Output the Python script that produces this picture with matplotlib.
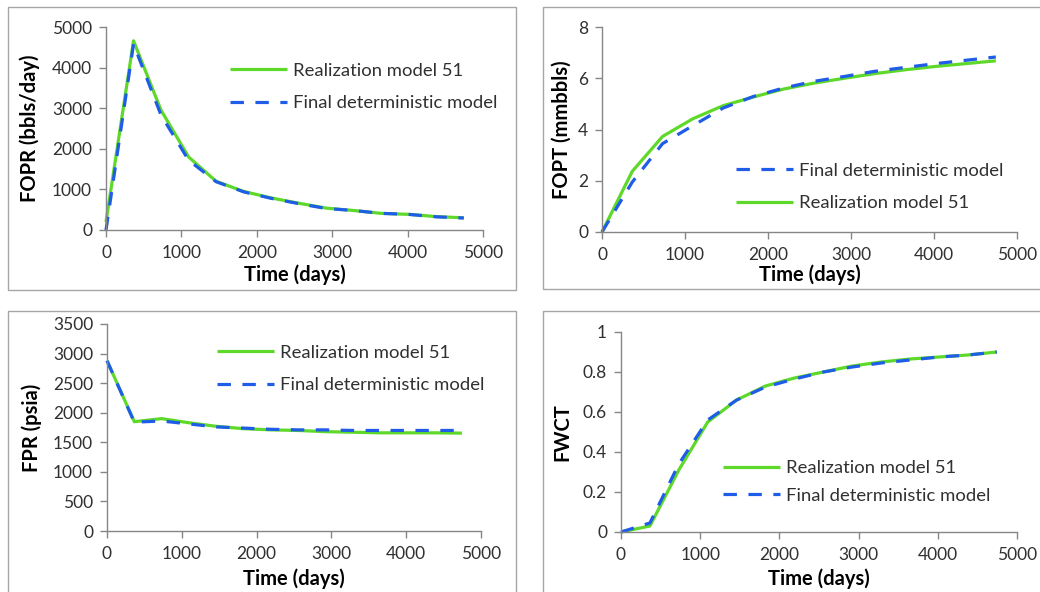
import matplotlib
matplotlib.use('Agg')
import matplotlib.pyplot as plt
from matplotlib.patches import Rectangle

plt.rcParams['font.family'] = ['Lato', 'DejaVu Sans']

# time steps (days), one per year
days = [0, 365, 730, 1095, 1460, 1825, 2190, 2555, 2920, 3285, 3650, 4015, 4380, 4745]

# field oil production rate (bbls/day)
fopr_real = [200, 4660, 2950, 1800, 1200, 950, 790, 660, 540, 480, 410, 385, 330, 300]
fopr_final = [0, 4580, 2830, 1720, 1190, 940, 780, 650, 530, 480, 410, 385, 325, 295]

# field oil production total (mmbbls)
fopt_real = [0, 2.37, 3.73, 4.42, 4.93, 5.27, 5.58, 5.81, 6.00, 6.18, 6.33, 6.46, 6.57, 6.68]
fopt_final = [0, 1.95, 3.45, 4.15, 4.84, 5.29, 5.62, 5.88, 6.07, 6.27, 6.42, 6.57, 6.70, 6.83]

# field pressure (psia)
fpr_real = [2880, 1848, 1900, 1830, 1770, 1730, 1710, 1700, 1680, 1670, 1660, 1660, 1660, 1655]
fpr_final = [2880, 1840, 1860, 1810, 1760, 1740, 1720, 1710, 1710, 1700, 1700, 1700, 1700, 1700]

# field water cut
fwct_real = [0, 0.03, 0.31, 0.55, 0.66, 0.73, 0.77, 0.80, 0.83, 0.85, 0.865, 0.875, 0.885, 0.90]
fwct_final = [0, 0.045, 0.34, 0.56, 0.66, 0.725, 0.765, 0.80, 0.825, 0.845, 0.86, 0.875, 0.885, 0.90]

GREEN = '#5ed92a'
BLUE = '#1f5ce8'
AXGRAY = '#868686'
TXT = '#303030'

W, H = 1040, 592
fig = plt.figure(figsize=(10.4, 5.92), dpi=100)


def px_rect(x0, y0, x1, y1):
    # pixel box (top-left origin) -> figure fraction [left, bottom, w, h]
    return [x0 / W, 1 - y1 / H, (x1 - x0) / W, (y1 - y0) / H]


# chart borders (Excel style boxes)
for (x0, y0, x1, y1) in [(8, 7, 516, 290), (543, 7, 1045, 289),
                         (8, 311, 516, 600), (543, 311, 1045, 600)]:
    fig.patches.append(Rectangle((x0 / W, 1 - y1 / H), (x1 - x0) / W, (y1 - y0) / H,
                                 transform=fig.transFigure, fill=False,
                                 edgecolor='#a6a6a6', lw=1.0))

# xlab_y / ylab_x: label centre in pixels
panels = [
    dict(box=(106, 27, 483, 230), ylabel='FOPR (bbls/day)', ymax=5000, ystep=1000,
         real=fopr_real, final=fopr_final, order='rf', leg=(230, 87), sp=0.92,
         fmt='{:.0f}', xlab_y=275, ylab_x=30),
    dict(box=(602, 27, 1017, 232), ylabel='FOPT (mmbbls)', ymax=8, ystep=2,
         real=fopt_real, final=fopt_final, order='fr', leg=(736, 187), sp=0.92,
         fmt='{:.0f}', xlab_y=275, ylab_x=562),
    dict(box=(107, 324, 481, 531), ylabel='FPR (psia)', ymax=3500, ystep=500,
         real=fpr_real, final=fpr_final, order='rf', leg=(217, 369), sp=0.92,
         fmt='{:.0f}', xlab_y=579, ylab_x=32),
    dict(box=(621, 332, 1017, 532), ylabel='FWCT', ymax=1, ystep=0.2,
         real=fwct_real, final=fwct_final, order='rf', leg=(723, 482), sp=0.6,
         fmt='{:g}', xlab_y=579, ylab_x=562),
]

for p in panels:
    x0, y0, x1, y1 = p['box']
    ax = fig.add_axes(px_rect(x0, y0, x1, y1))
    lr, = ax.plot(days, p['real'], color=GREEN, lw=2.3, solid_capstyle='butt')
    lf, = ax.plot(days, p['final'], color=BLUE, lw=2.3, dashes=(4.2, 3.6))
    ax.set_xlim(0, 5000)
    ax.set_ylim(0, p['ymax'])
    ax.set_xticks(range(0, 5001, 1000))
    n = int(round(p['ymax'] / p['ystep']))
    yt = [i * p['ystep'] for i in range(n + 1)]
    ax.set_yticks(yt)
    ax.set_yticklabels([p['fmt'].format(round(v, 1)) for v in yt])
    for s in ['top', 'right']:
        ax.spines[s].set_visible(False)
    for s in ['left', 'bottom']:
        ax.spines[s].set_color(AXGRAY)
        ax.spines[s].set_linewidth(1.0)
    ax.tick_params(direction='out', length=5, width=1.0, color=AXGRAY,
                   labelsize=12.5, labelcolor=TXT, pad=5)
    ax.tick_params(axis='x', pad=6)
    ax.set_xlabel('Time (days)', fontsize=14.5, fontweight='bold', va='center')
    ax.set_ylabel(p['ylabel'], fontsize=14.5, fontweight='bold', va='center')
    w, h = x1 - x0, y1 - y0
    ax.xaxis.set_label_coords(0.5, -(p['xlab_y'] - y1) / h)
    ax.yaxis.set_label_coords(-(x0 - p['ylab_x']) / w, 0.5)
    ax.patch.set_alpha(0)
    for ln in (lr, lf):
        ln.set_clip_on(False)

    if p['order'] == 'rf':
        handles = [lr, lf]
        labels = ['Realization model 51', 'Final deterministic model']
    else:
        handles = [lf, lr]
        labels = ['Final deterministic model', 'Realization model 51']
    lx, ly = p['leg']
    ax.legend(handles, labels, loc='center left',
              bbox_to_anchor=(lx / W, 1 - ly / H), bbox_transform=fig.transFigure,
              frameon=False, fontsize=13.3, handlelength=3.1, handletextpad=0.32,
              borderpad=0, borderaxespad=0, labelspacing=p['sp'],
              labelcolor=TXT)

fig.savefig('out.png', dpi=100)
